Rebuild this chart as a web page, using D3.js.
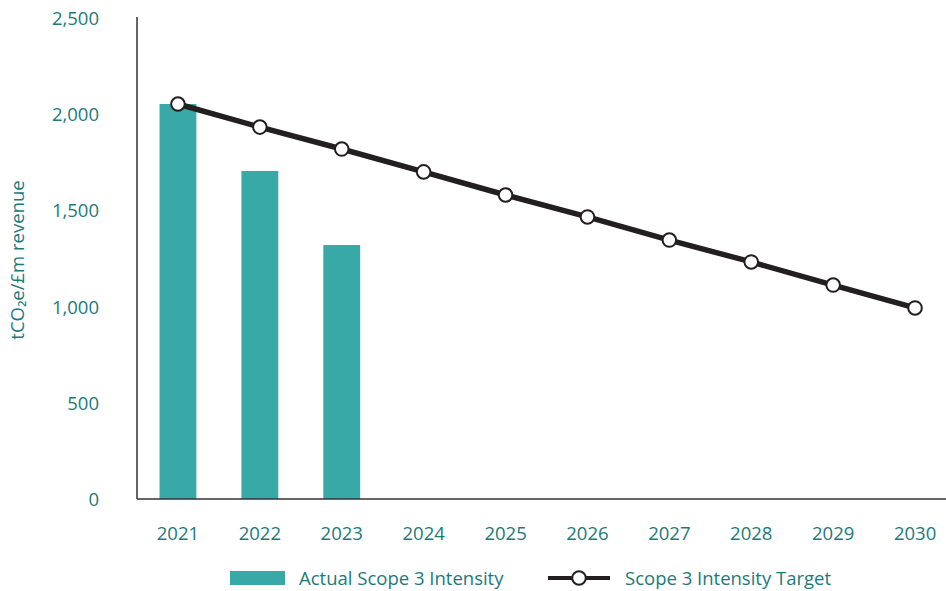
<!DOCTYPE html>
<html><head><meta charset="utf-8">
<script src="https://cdn.jsdelivr.net/npm/d3@7"></script>
<style>body{margin:0;background:#fff}svg{display:block}</style>
</head><body>
<svg id="c" width="946" height="591"></svg>
<script>
const years = ["2021","2022","2023","2024","2025","2026","2027","2028","2029","2030"];
const actualYears = ["2021","2022","2023"];
const actualValues = [2053, 1705, 1320];
const targetValues = [2053, 1933, 1819, 1700, 1580, 1466, 1346, 1232, 1112, 993];
const yTicks = [0, 500, 1000, 1500, 2000, 2500];
const seriesNames = ["Actual Scope 3 Intensity", "Scope 3 Intensity Target"];
const yLabel = "tCO\u2082e/\u00a3m revenue";

const teal = "#1c7a7b", barCol = "#38a9a6", ink = "#231f20";
const font = "'Open Sans', 'Noto Sans', sans-serif";
const fs = 18.5;
const svg = d3.select("#c");
const x = d3.scaleBand().domain(years).range([137, 956]).paddingInner(0.55).paddingOuter(0.275);
const y = d3.scaleLinear().domain([0, 2500]).range([499, 18]);

// bars
svg.append("g").selectAll("rect").data(actualYears.map((d,i)=>({year:d,v:actualValues[i]})))
  .join("rect")
  .attr("x", d => x(d.year))
  .attr("width", x.bandwidth())
  .attr("y", d => y(d.v))
  .attr("height", d => y(0) - y(d.v))
  .attr("fill", barCol);

// axes
const yAxis = d3.axisLeft(y).tickValues(yTicks).tickSize(0).tickPadding(38).tickFormat(d3.format(","));
const gy = svg.append("g").attr("transform","translate(137,0)").call(yAxis);
gy.select(".domain").attr("stroke", "#333").attr("stroke-width", 1.5).attr("d","M0,17V499");
gy.selectAll("text").attr("fill", teal).attr("font-family", font).attr("font-size", fs).attr("dy","0.35em");

const xAxis = d3.axisBottom(x).tickSize(0).tickPadding(28);
const gx = svg.append("g").attr("transform","translate(0,499)").call(xAxis);
gx.select(".domain").attr("stroke", "#333").attr("stroke-width", 1.5).attr("d","M137,0H946");
gx.selectAll("text").attr("fill", teal).attr("font-family", font).attr("font-size", fs);

// y label
svg.append("text").attr("transform","translate(24,260) rotate(-90)")
  .attr("text-anchor","middle").attr("fill", teal).attr("font-family", font).attr("font-size", fs)
  .text(yLabel);

// target line
const cx = d => x(d) + x.bandwidth()/2;
const line = d3.line().x((d,i)=>cx(years[i])).y(d=>y(d));
svg.append("path").datum(targetValues).attr("d", line).attr("fill","none")
  .attr("stroke", ink).attr("stroke-width", 5.5);
svg.append("g").selectAll("circle").data(targetValues).join("circle")
  .attr("cx",(d,i)=>cx(years[i])).attr("cy", d=>y(d)).attr("r", 6.8)
  .attr("fill","#fff").attr("stroke", ink).attr("stroke-width", 2);

// legend
const lg = svg.append("g").attr("font-family", font).attr("font-size", fs).attr("fill", teal);
lg.append("rect").attr("x",230).attr("y",571).attr("width",55).attr("height",14).attr("fill",barCol);
lg.append("text").attr("x",299).attr("y",585).text(seriesNames[0]);
lg.append("line").attr("x1",548).attr("x2",610).attr("y1",578).attr("y2",578).attr("stroke",ink).attr("stroke-width",4);
lg.append("circle").attr("cx",579).attr("cy",578).attr("r",6.8).attr("fill","#fff").attr("stroke",ink).attr("stroke-width",2);
lg.append("text").attr("x",625).attr("y",585).text(seriesNames[1]);
</script>
</body></html>
